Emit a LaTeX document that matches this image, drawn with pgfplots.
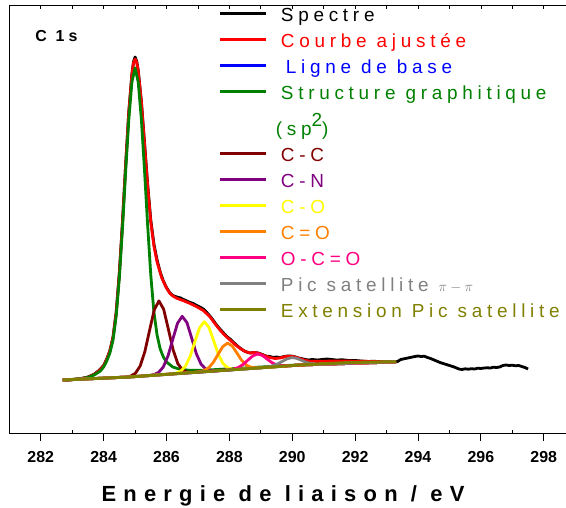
\documentclass[border=0pt]{standalone}
\usepackage{fontspec}
\setmainfont{Liberation Sans}
\newfontfamily\lsp{Liberation Sans}[LetterSpace=25]
\newfontfamily\lspb{Liberation Sans}[LetterSpace=27]
\newfontfamily\lspx{Liberation Sans}[LetterSpace=33]
\usepackage{pgfplots}
\pgfplotsset{compat=1.18}
\definecolor{cred}{HTML}{FF0000}
\definecolor{cblue}{HTML}{0000FF}
\definecolor{cgreen}{HTML}{008000}
\definecolor{cdred}{HTML}{800000}
\definecolor{cpurple}{HTML}{800080}
\definecolor{cyellow}{HTML}{FFFF00}
\definecolor{corange}{HTML}{FF8000}
\definecolor{cpink}{HTML}{FF0080}
\definecolor{cgray}{HTML}{808080}
\definecolor{colive}{HTML}{808000}
\newcommand\ls{\rule[-4bp]{0pt}{21.6bp}}
\begin{document}
\begin{tikzpicture}
\begin{axis}[name=main,
  scale only axis, width=561.2bp, height=427bp,
  xmin=281, xmax=298.85, ymin=0, ymax=427,
  axis line style={line width=1bp},
  xtick={282,284,...,298}, minor xtick={283,285,...,297},
  ytick=\empty, minor ytick={30.5,61,91.5,122,152.5,183,213.5,244,274.5,305,335.5,366,396.5},
  xtick pos=bottom, ytick pos=left,
  tick align=outside, major tick length=8bp, minor tick length=-3bp,
  tick style={black, line width=0.9bp},
  /pgf/number format/assume math mode=true,
  xticklabel style={font=\fontsize{16}{16}\selectfont\bfseries, yshift=-7bp},
  xlabel={Energie de liaison / eV},
  xlabel style={font=\lspx\fontsize{22}{22}\selectfont\bfseries, at={(axis description cs:0.4877,0)}, anchor=base, yshift=-68bp},
  legend style={at={(0.3737,1.0042)}, anchor=north west, draw=none, fill=none, inner sep=0pt, outer sep=0pt, row sep=6.9bp, font=\lsp\fontsize{19}{19}\selectfont, nodes={inner sep=0pt, outer sep=0pt}},
  legend cell align=left,
  legend image code/.code={\draw[#1,line width=2.8bp] (0bp,0bp) -- (46bp,0bp); \path (59bp,0bp);},
  every axis plot/.append style={line width=2.8bp, line join=round},
]
% Spectre
\addplot[black] coordinates {
(282.7,52.5) (282.9,53) (283.1,53.6) (283.3,54.5) (283.5,56) (283.7,58.8) (283.85,62.5) (284.0,67.5) (284.1,74) (284.2,82.5) (284.3,96) (284.4,121) (284.5,160) (284.6,211) (284.7,268) (284.8,321) (284.9,359) (284.95,371) (285.0,376) (285.05,372) (285.1,363) (285.2,332) (285.3,291) (285.4,249) (285.5,213) (285.6,189) (285.7,173) (285.8,161) (285.9,152) (286.0,145.5) (286.1,140.5) (286.2,137.5) (286.33,136) (286.45,135) (286.54,133.5) (286.65,132) (286.75,130.5) (286.85,129.5) (286.96,127.5) (287.06,126) (287.17,124) (287.27,121) (287.38,117) (287.48,113) (287.58,108.5) (287.7,104) (287.8,100.5) (287.9,97) (288.02,94) (288.12,91) (288.24,87.5) (288.34,85) (288.45,82.5) (288.55,81) (288.66,80) (288.78,80.5) (288.92,80) (289.05,78.5) (289.15,77) (289.29,76.5) (289.4,75.5) (289.5,76) (289.61,75.5) (289.75,76.5) (289.85,77) (289.93,77) (290.05,76.5) (290.2,75) (290.35,74) (290.5,73) (290.65,73.5) (290.8,73) (290.95,73.5) (291.1,74) (291.25,73.5) (291.4,73) (291.6,73.2) (291.8,72.5) (292.0,72.5) (292.2,72) (292.4,71.5) (292.6,71.8) (292.8,71.2) (293.0,71) (293.2,70.8) (293.35,71.5) (293.45,73.5) (293.6,74.5) (293.75,75.5) (293.9,76.5) (294.0,77) (294.1,76.5) (294.2,76.8) (294.3,75.5) (294.4,74.5) (294.55,72.5) (294.7,70.5) (294.85,69) (295.0,67.5) (295.15,66) (295.3,64) (295.4,63.5) (295.5,64.2) (295.6,63.8) (295.7,64.3) (295.8,64) (295.9,64.8) (296.0,64.5) (296.1,65) (296.2,65.2) (296.3,65) (296.4,65.8) (296.5,65.5) (296.6,66) (296.7,67.5) (296.8,68) (296.9,67.5) (297.0,67.8) (297.1,67.2) (297.2,67.5) (297.3,66.5) (297.4,65.5) (297.5,64)
};
\addlegendentry{\ls Spectre}
% Courbe ajustee
\addplot[cred] coordinates {
(282.7,53) (283.0,53.5) (283.3,54.5) (283.5,55.7) (283.7,58.5) (283.85,62) (284.0,67) (284.1,73.5) (284.2,82) (284.3,95.5) (284.4,120) (284.5,159) (284.6,210) (284.7,267) (284.8,320) (284.9,358) (284.95,370) (285.0,374) (285.05,371) (285.1,362) (285.2,331) (285.3,289) (285.4,247) (285.5,211) (285.6,187) (285.7,171) (285.85,155) (286.0,145) (286.1,140) (286.2,137) (286.33,134.7) (286.54,132.3) (286.75,129.5) (286.96,126.3) (287.17,122.5) (287.38,116.3) (287.55,109) (287.7,103) (287.86,97.5) (288.02,93) (288.18,88.5) (288.34,84.5) (288.5,81.5) (288.66,80) (288.8,80.5) (288.92,79.8) (289.1,77.5) (289.29,75.5) (289.45,74.5) (289.61,75) (289.8,76.5) (289.93,76.8) (290.05,76.3) (290.2,74.8) (290.4,72.8) (290.56,71.8) (290.8,71.6) (291.0,71.8) (291.5,72) (292.0,71.8) (292.6,71.5) (293.3,71.3)
};
\addlegendentry{\ls\textcolor{cred}{Courbe ajustée}}
% Ligne de base
\addplot[cblue] coordinates {(282.7,53) (284.8,56) (290.25,68) (293.3,71)};
\addlegendentry{\ls\hspace*{5bp}\textcolor{cblue}{Ligne de base}}
% Structure graphitique
\addplot[cgreen] coordinates {
(282.7,53) (283.0,53.6) (283.2,54.2) (283.5,55.5) (283.7,58) (283.9,62) (284.0,66) (284.1,72) (284.2,80) (284.3,93) (284.4,117) (284.5,155) (284.6,205) (284.7,261) (284.8,313) (284.9,351) (285.0,365) (285.1,351) (285.2,314) (285.3,263) (285.4,208) (285.5,158) (285.6,121) (285.7,98) (285.8,84) (285.9,76) (286.0,71) (286.2,66) (286.4,64) (286.7,62.8) (287.0,62.6) (287.5,63.3) (288.0,64.2) (289.0,66) (290.0,67.8) (291.0,69) (292.0,70) (293.3,71.2)
};
\addlegendentry{\ls\textcolor{cgreen}{Structure graphitique}}
\addlegendimage{empty legend}
\addlegendentry{\rule[-4bp]{0pt}{31.6bp}\hspace*{-5bp}\textcolor{cgreen}{(sp\raisebox{9bp}{2})}}
% C-C
\addplot[cdred] coordinates {
(282.7,53) (284.71,55.9) (284.86,56.9) (285.01,59.7) (285.16,66.8) (285.31,81.2) (285.46,102.4) (285.61,123.1) (285.76,132.1) (285.91,123.7) (286.06,103.7) (286.21,83.2) (286.36,69.4) (286.51,63.0) (286.66,60.9) (286.81,60.6) (290.25,68) (293.3,71)
};
\addlegendentry{\ls\textcolor{cdred}{C-C}}
% C-N
\addplot[cpurple] coordinates {
(282.7,53) (284.8,56) (285.45,57.5) (285.6,58.4) (285.75,60.6) (285.9,66.1) (286.05,77.3) (286.2,93.7) (286.35,109.7) (286.5,116.7) (286.65,110.4) (286.8,95.0) (286.95,79.2) (287.1,68.8) (287.25,63.9) (287.4,62.3) (287.55,62.2) (290.25,68) (293.3,71)
};
\addlegendentry{\ls\textcolor{cpurple}{C-N}}
% C-O
\addplot[cyellow] coordinates {
(282.7,53) (284.8,56) (286.15,59.1) (286.3,59.9) (286.45,61.8) (286.6,66.7) (286.75,76.5) (286.9,91.0) (287.05,105.1) (287.2,111.3) (287.35,105.7) (287.5,92.3) (287.65,78.5) (287.8,69.4) (287.95,65.1) (288.1,63.8) (288.25,63.7) (290.25,68) (293.3,71)
};
\addlegendentry{\ls\textcolor{cyellow}{C-O}}
% C=O
\addplot[corange] coordinates {
(282.7,53) (284.8,56) (286.89,60.65) (287.04,61.2) (287.19,62.5) (287.34,65.2) (287.49,70.7) (287.64,78.6) (287.79,86.4) (287.94,89.9) (288.09,87.0) (288.24,80.0) (288.39,72.7) (288.54,67.9) (288.69,65.8) (288.84,65.2) (288.99,65.3) (290.25,68) (293.3,71)
};
\addlegendentry{\ls\textcolor{corange}{C=O}}
% O-C=O
\addplot[cpink] coordinates {
(282.7,53) (284.8,56) (287.84,62.7) (287.99,63.2) (288.14,64.0) (288.29,65.6) (288.44,68.6) (288.59,72.9) (288.74,77.0) (288.89,79.0) (289.04,77.7) (289.19,74.2) (289.34,70.6) (289.49,68.2) (289.64,67.3) (289.79,67.1) (289.94,67.3) (290.25,68) (293.3,71)
};
\addlegendentry{\ls\textcolor{cpink}{O-C=O}}
% Pic satellite pi-pi
\addplot[cgray] coordinates {
(282.7,53) (284.8,56) (288.93,65.1) (289.08,65.5) (289.23,66.1) (289.38,67.2) (289.53,69.0) (289.68,71.6) (289.83,74.1) (289.98,75.4) (290.13,74.8) (290.28,72.9) (290.43,70.8) (290.58,69.4) (290.73,68.8) (290.88,68.7) (291.03,68.8) (292.0,70) (293.3,71.2)
};
\addlegendentry{\ls\textcolor{cgray}{Pic satellite {\fontsize{15}{15}\selectfont$\pi-\pi$}}}
% Extension Pic satellite
\addplot[colive, line width=3bp] coordinates {
(282.7,53) (284.8,56) (290.25,68) (291.0,69.2) (291.6,70.2) (292.3,70.8) (293.3,71.2)
};
\addlegendentry{\ls\textcolor{colive}{Extension Pic satellite}}
\node[anchor=base west, inner sep=0pt, font=\lspb\fontsize{16}{16}\selectfont\bfseries] at (axis cs:281.82,391) {C 1s};
\end{axis}
\begin{axis}[
  scale only axis, width=561.2bp, height=427bp,
  xmin=281, xmax=298.85, ymin=0, ymax=427,
  axis x line*=top, axis y line=none,
  axis line style={line width=1bp},
  xtick={282,283,...,298}, xticklabels={},
  tick align=inside, major tick length=3bp,
  tick style={black, line width=0.8bp},
]
\end{axis}
\pgfresetboundingbox
\path[use as bounding box] ([shift={(-9.3bp,-75bp)}]main.south west) rectangle ([shift={(556.7bp,433bp)}]main.south west);
\end{tikzpicture}
\end{document}
